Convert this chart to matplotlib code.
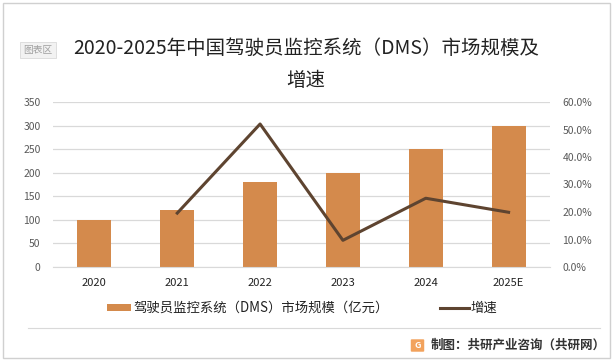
import matplotlib
matplotlib.use("Agg")
from matplotlib import pyplot as plt
from matplotlib.patches import Rectangle, FancyBboxPatch
from matplotlib.lines import Line2D
from matplotlib.ticker import FuncFormatter

plt.rcParams["font.family"] = ["Noto Sans CJK SC", "DejaVu Sans"]

years = ["2020", "2021", "2022", "2023", "2024", "2025E"]
market_size = [100, 120, 180, 200, 250, 300]  # 亿元
growth_years = ["2021", "2022", "2023", "2024", "2025E"]
growth_rate = [0.196, 0.52, 0.097, 0.25, 0.199]

bar_color = "#D48A4C"
line_color = "#5E4430"

W, H = 613, 361
fig = plt.figure(figsize=(W / 100, H / 100), dpi=100)

# outer border
fig.patches.append(Rectangle((3 / W, 3 / H), 1 - 6 / W, 1 - 6 / H, transform=fig.transFigure,
                             fill=False, edgecolor="#D0D0D0", linewidth=1))

ax = fig.add_axes([53 / W, 1 - 267 / H, (550 - 53) / W, (267 - 102) / H])
x = list(range(len(years)))
ax.bar(x, market_size, width=0.41, color=bar_color, zorder=2)
ax.set_ylim(0, 350)
ax.set_yticks(range(0, 351, 50))
ax.set_xlim(-0.5, len(years) - 0.5)
ax.set_xticks(x)
ax.set_xticklabels(years, fontsize=8, color="#222222")
ax.tick_params(axis="y", labelsize=7.5, colors="#595959", length=0, pad=9)
ax.tick_params(axis="x", length=0, pad=8)
ax.grid(axis="y", color="#D9D9D9", linewidth=0.9, zorder=0)
for s in ax.spines.values():
    s.set_visible(False)
ax.spines["bottom"].set_visible(True)
ax.spines["bottom"].set_color("#D9D9D9")

ax2 = ax.twinx()
gx = [years.index(y) for y in growth_years]
ax2.plot(gx, growth_rate, color=line_color, linewidth=2.2, zorder=3)
ax2.set_ylim(0, 0.6)
ax2.set_yticks([i / 10 for i in range(7)])
ax2.yaxis.set_major_formatter(FuncFormatter(lambda v, p: f"{v * 100:.1f}%"))
ax2.tick_params(axis="y", labelsize=7.5, colors="#595959", length=0, pad=9)
for s in ax2.spines.values():
    s.set_visible(False)

# title
fig.text(306 / W, 1 - 48 / H, "2020-2025年中国驾驶员监控系统（DMS）市场规模及",
         ha="center", va="center", fontsize=14, color="#222222")
fig.text(306 / W, 1 - 81 / H, "增速", ha="center", va="center", fontsize=14, color="#222222")

# chart area tag
fig.text(38 / W, 1 - 50 / H, "图表区", ha="center", va="center", fontsize=7, color="#A0A0A0",
         bbox=dict(boxstyle="square,pad=0.3", facecolor="#F2F2F2", edgecolor="#D9D9D9", linewidth=0.6))

# legend
fig.patches.append(Rectangle((107 / W, 1 - 311 / H), 24 / W, 7 / H, transform=fig.transFigure,
                             facecolor=bar_color, edgecolor="none"))
fig.text(133 / W, 1 - 308 / H, "驾驶员监控系统（DMS）市场规模（亿元）", ha="left", va="center",
         fontsize=9.6, color="#222222")
fig.lines.append(Line2D([440 / W, 469 / W], [1 - 308 / H, 1 - 308 / H], transform=fig.transFigure,
                        color=line_color, linewidth=2.2))
fig.text(470 / W, 1 - 308 / H, "增速", ha="left", va="center", fontsize=9.6, color="#222222")

# separator and source
fig.lines.append(Line2D([28 / W, 600 / W], [1 - 328 / H, 1 - 328 / H], transform=fig.transFigure,
                        color="#D9D9D9", linewidth=0.8))
fig.patches.append(FancyBboxPatch((412 / W, 1 - 351 / H), 11 / W, 11 / H, transform=fig.transFigure,
                                  boxstyle="round,pad=0.002", facecolor="#F2A25C", edgecolor="none"))
fig.text(417.5 / W, 1 - 345.5 / H, "G", ha="center", va="center", fontsize=6.5, color="white",
         fontweight="bold")
fig.text(431 / W, 1 - 345 / H, "制图：共研产业咨询（共研网）", ha="left", va="center",
         fontsize=9, color="#333333", fontweight="bold")

fig.savefig("out.png", dpi=100)
